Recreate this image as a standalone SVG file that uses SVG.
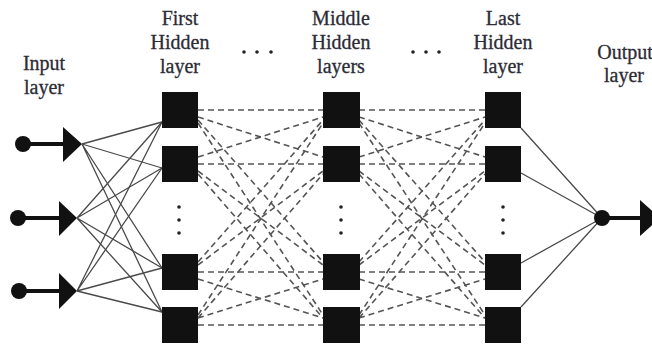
<svg xmlns="http://www.w3.org/2000/svg" width="652" height="346" viewBox="0 0 652 346">
  <style>
    .lbl { font-family: "Liberation Serif", "Times New Roman", serif; font-size: 20px; fill: #2c2c36; stroke: #2c2c36; stroke-width: 0.3; text-anchor: middle; }
    .solid { stroke: #4a4a4a; stroke-width: 1.3; fill: none; }
    .dash { stroke: #555; stroke-width: 1.6; stroke-dasharray: 6 4; fill: none; }
    .box { fill: #111; }
    .dot { fill: #222; }
    .axon { stroke: #111; stroke-width: 4; }
  </style>

  <!-- labels -->
  <g id="labels">
    <text class="lbl" x="44" y="70">Input</text>
    <text class="lbl" x="44" y="94">layer</text>
    <text class="lbl" x="180" y="25">First</text>
    <text class="lbl" x="180" y="49">Hidden</text>
    <text class="lbl" x="180" y="73">layer</text>
    <text class="lbl" x="341" y="25">Middle</text>
    <text class="lbl" x="341" y="49">Hidden</text>
    <text class="lbl" x="341" y="73">layers</text>
    <text class="lbl" x="503" y="25">Last</text>
    <text class="lbl" x="503" y="49">Hidden</text>
    <text class="lbl" x="503" y="73">layer</text>
    <text class="lbl" x="625" y="59">Output</text>
    <text class="lbl" x="624" y="82">layer</text>
    <!-- horizontal ellipses between columns -->
    <circle class="dot" cx="244" cy="52" r="1.8"/>
    <circle class="dot" cx="257" cy="52" r="1.8"/>
    <circle class="dot" cx="271" cy="52" r="1.8"/>
    <circle class="dot" cx="413" cy="52" r="1.8"/>
    <circle class="dot" cx="426" cy="52" r="1.8"/>
    <circle class="dot" cx="439" cy="52" r="1.8"/>
  </g>

  <!-- connectors -->
  <g id="connectors">
    <!-- inputs to first hidden layer -->
    <g class="solid">
      <path d="M82 144 L162 122 M82 144 L162 168 M82 144 L162 268 M82 144 L162 312"/>
      <path d="M77 218 L162 122 M77 218 L162 168 M77 218 L162 268 M77 218 L162 312"/>
      <path d="M77 291 L162 122 M77 291 L162 168 M77 291 L162 268 M77 291 L162 312"/>
    </g>
    <!-- first hidden to middle hidden -->
    <g class="dash">
      <path d="M198 110 L323 110 M198 117 L323 157 M198 120 L323 262 M198 123 L323 315"/>
      <path d="M198 157 L323 117 M198 164 L323 164 M198 171 L323 265 M198 174 L323 318"/>
      <path d="M198 262 L323 120 M198 265 L323 171 M198 272 L323 272 M198 279 L323 318"/>
      <path d="M198 315 L323 123 M198 318 L323 174 M198 318 L323 279 M198 325 L323 325"/>
    </g>
    <!-- middle hidden to last hidden -->
    <g class="dash">
      <path d="M359 110 L485 110 M359 117 L485 157 M359 120 L485 262 M359 123 L485 315"/>
      <path d="M359 157 L485 117 M359 164 L485 164 M359 171 L485 265 M359 174 L485 318"/>
      <path d="M359 262 L485 120 M359 265 L485 171 M359 272 L485 272 M359 279 L485 318"/>
      <path d="M359 315 L485 123 M359 318 L485 174 M359 318 L485 279 M359 325 L485 325"/>
    </g>
    <!-- last hidden to output -->
    <g class="solid">
      <path d="M521 128 L602 218 M521 173 L602 218 M521 263 L602 218 M521 307 L602 218"/>
    </g>
  </g>

  <!-- input nodes -->
  <g id="input-1">
    <line class="axon" x1="23" y1="144" x2="66" y2="144"/>
    <circle cx="23" cy="144" r="8" fill="#111"/>
    <polygon points="63,127 82,144 63,162" fill="#111"/>
  </g>
  <g id="input-2">
    <line class="axon" x1="18" y1="218" x2="62" y2="218"/>
    <circle cx="18" cy="218" r="8" fill="#111"/>
    <polygon points="59,201 77,218 59,236" fill="#111"/>
  </g>
  <g id="input-3">
    <line class="axon" x1="19" y1="291" x2="62" y2="291"/>
    <circle cx="19" cy="291" r="8" fill="#111"/>
    <polygon points="59,273 77,291 59,309" fill="#111"/>
  </g>

  <!-- first hidden layer -->
  <g id="first-hidden">
    <rect class="box" x="162" y="92" width="36" height="36"/>
    <rect class="box" x="162" y="146" width="36" height="36"/>
    <circle class="dot" cx="179" cy="207" r="1.8"/>
    <circle class="dot" cx="179" cy="220" r="1.8"/>
    <circle class="dot" cx="179" cy="233" r="1.8"/>
    <rect class="box" x="162" y="254" width="36" height="36"/>
    <rect class="box" x="162" y="307" width="36" height="36"/>
  </g>

  <!-- middle hidden layers -->
  <g id="middle-hidden">
    <rect class="box" x="323" y="92" width="37" height="36"/>
    <rect class="box" x="323" y="146" width="37" height="36"/>
    <circle class="dot" cx="341" cy="207" r="1.8"/>
    <circle class="dot" cx="341" cy="220" r="1.8"/>
    <circle class="dot" cx="341" cy="233" r="1.8"/>
    <rect class="box" x="323" y="254" width="37" height="36"/>
    <rect class="box" x="323" y="307" width="37" height="36"/>
  </g>

  <!-- last hidden layer -->
  <g id="last-hidden">
    <rect class="box" x="485" y="92" width="36" height="36"/>
    <rect class="box" x="485" y="146" width="36" height="36"/>
    <circle class="dot" cx="503" cy="207" r="1.8"/>
    <circle class="dot" cx="503" cy="220" r="1.8"/>
    <circle class="dot" cx="503" cy="233" r="1.8"/>
    <rect class="box" x="485" y="254" width="36" height="36"/>
    <rect class="box" x="485" y="307" width="36" height="36"/>
  </g>

  <!-- output node -->
  <g id="output">
    <line class="axon" x1="602" y1="218" x2="643" y2="218"/>
    <circle cx="602" cy="218" r="8" fill="#111"/>
    <polygon points="640,200 660,218 640,236" fill="#111"/>
  </g>
</svg>
